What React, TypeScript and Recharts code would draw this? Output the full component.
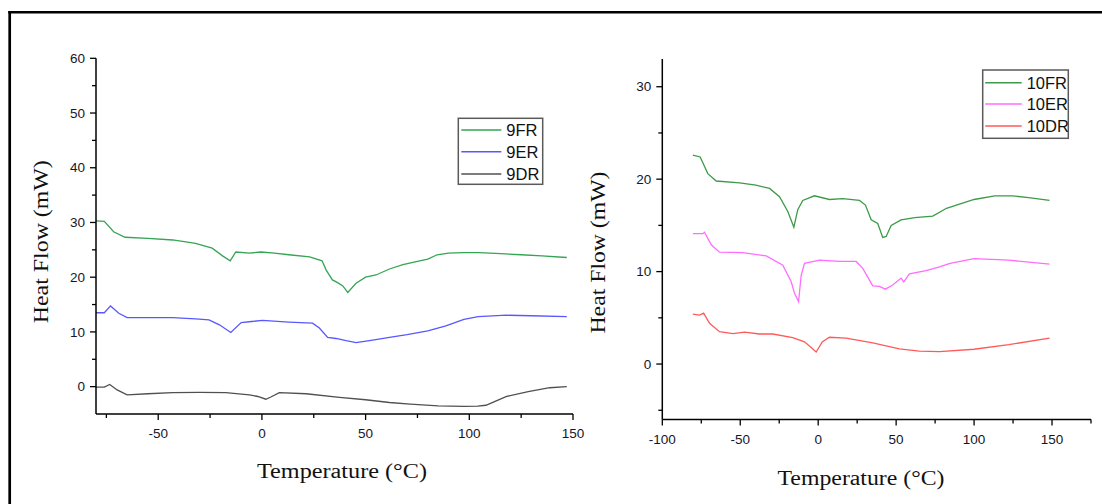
import React from 'react';
import { LineChart, Line, XAxis, YAxis } from 'recharts';

// ---------- Data: left panel (sample 9) ----------
const t9FR = [-80, -76, -71.5, -66, -55, -43, -32, -24, -19, -15.3, -12.6, -6, -0.5, 6, 13, 23, 29, 31, 34, 36.5, 39, 41.4, 45.4, 50, 55, 61.5, 68, 75, 80, 84.5, 90, 97, 105, 115, 125, 135, 147];
const v9FR = [30.3, 30.2, 28.3, 27.3, 27.1, 26.8, 26.2, 25.3, 23.9, 23.0, 24.6, 24.4, 24.6, 24.4, 24.1, 23.7, 23.0, 21.3, 19.5, 19.0, 18.4, 17.2, 18.9, 20.0, 20.4, 21.5, 22.3, 22.9, 23.3, 24.1, 24.4, 24.5, 24.5, 24.3, 24.1, 23.9, 23.6];

const t9ER = [-80, -76, -73, -69, -65, -55, -43, -32, -25.5, -20.5, -15, -10, -5, 0.3, 13, 24.4, 27.7, 31.7, 35.7, 40.6, 45.4, 53.4, 61.5, 70, 80, 88.7, 97.4, 104.3, 118, 130, 147];
const v9ER = [13.5, 13.5, 14.75, 13.4, 12.6, 12.6, 12.6, 12.4, 12.2, 11.3, 9.9, 11.7, 11.9, 12.1, 11.8, 11.6, 10.7, 9.0, 8.8, 8.4, 8.05, 8.5, 9.0, 9.5, 10.2, 11.1, 12.3, 12.8, 13.05, 12.95, 12.8];

const t9DR = [-80, -76, -73.4, -69.8, -65, -55, -43, -30, -17.4, -6, -2, 1.9, 4.3, 8.4, 21.3, 37.4, 50, 61.5, 71.5, 85, 97.4, 104, 108, 113, 118, 128.4, 138.8, 147];
const v9DR = [-0.1, -0.1, 0.4, -0.6, -1.5, -1.3, -1.1, -1.05, -1.1, -1.5, -1.8, -2.3, -1.9, -1.1, -1.3, -1.95, -2.4, -2.9, -3.2, -3.5, -3.6, -3.55, -3.4, -2.6, -1.8, -0.9, -0.2, 0.0];

// ---------- Data: right panel (sample 10) ----------
const t10FR = [-80.4, -75.7, -70.8, -65.4, -50.4, -40, -31.2, -24.8, -19.5, -15.6, -13.1, -9.9, -2.4, 7.2, 15.8, 26.5, 30.3, 34, 38.2, 41.4, 43.6, 46.8, 53.2, 62, 73.5, 82.3, 100, 113.3, 124.4, 135, 148.4];
const v10FR = [22.6, 22.4, 20.6, 19.8, 19.6, 19.35, 19.0, 18.1, 16.5, 14.8, 16.7, 17.7, 18.2, 17.8, 17.9, 17.7, 17.2, 15.6, 15.2, 13.7, 13.8, 15.0, 15.6, 15.85, 16.0, 16.85, 17.8, 18.2, 18.2, 18.0, 17.7];

const t10ER = [-80.4, -74, -72.9, -68.6, -63.3, -48.3, -33.3, -22.7, -17.3, -15.2, -12.6, -10.9, -8.8, 0.8, 13.7, 24.4, 28.6, 35, 39.3, 43.1, 47.8, 53.2, 54.9, 58.5, 69.2, 77.8, 84.6, 100, 122.3, 148.4];
const v10ER = [14.1, 14.1, 14.25, 12.9, 12.1, 12.05, 11.7, 10.7, 8.9, 7.65, 6.75, 9.6, 10.9, 11.25, 11.1, 11.1, 10.35, 8.45, 8.4, 8.1, 8.55, 9.3, 8.9, 9.75, 10.1, 10.5, 10.9, 11.4, 11.25, 10.8];

const t10DR = [-80.4, -76.1, -73.5, -69.7, -63.3, -54.7, -47.2, -37.6, -29.1, -16.3, -8.8, -4.5, -1.3, 2.6, 7.2, 17.9, 35, 52.1, 64.9, 77.8, 100, 122.3, 148.4];
const v10DR = [5.4, 5.3, 5.5, 4.4, 3.5, 3.3, 3.45, 3.25, 3.25, 2.85, 2.4, 1.8, 1.3, 2.4, 2.9, 2.8, 2.3, 1.65, 1.4, 1.35, 1.6, 2.1, 2.8];

// ---------- Ticks ----------
const leftXTicks = [-75, -50, -25, 0, 25, 50, 75, 100, 125, 150];
const leftXMajor = [-50, 0, 50, 100, 150];
const leftYTicks = [0, 5, 10, 15, 20, 25, 30, 35, 40, 45, 50, 55, 60];
const leftYMajor = [0, 10, 20, 30, 40, 50, 60];
const rightXTicks = [-100, -75, -50, -25, 0, 25, 50, 75, 100, 125, 150, 175];
const rightXMajor = [-100, -50, 0, 50, 100, 150];
const rightYTicks = [-5, 0, 5, 10, 15, 20, 25, 30];
const rightYMajor = [0, 10, 20, 30];

const zip = (t: number[], v: number[]) => t.map((x, i) => ({ t: x, v: v[i] }));

const leftSeries = [
  { name: '9FR', color: '#34a455', data: zip(t9FR, v9FR) },
  { name: '9ER', color: '#5858ff', data: zip(t9ER, v9ER) },
  { name: '9DR', color: '#505050', data: zip(t9DR, v9DR) },
];
const rightSeries = [
  { name: '10FR', color: '#3c9a48', data: zip(t10FR, v10FR) },
  { name: '10ER', color: '#ff6cff', data: zip(t10ER, v10ER) },
  { name: '10DR', color: '#ff5a5a', data: zip(t10DR, v10DR) },
];

const tickFont = '"Liberation Sans", Arial, sans-serif';
const titleFont = '"Liberation Serif", "Times New Roman", serif';

// tickSize=1, tickMargin=0 -> tick anchor sits 1px outside the axis line
const makeXTick = (majors: number[]) => (props: any) => {
  const { x, payload } = props;
  const y = props.y - 1;
  const major = majors.includes(payload.value);
  return (
    <g>
      <line x1={x} x2={x} y1={y} y2={y + (major ? 6 : 4)} stroke="#000" strokeWidth={1.3} />
      {major && (
        <text x={x} y={y + 24} textAnchor="middle" fontSize={13.5} fontFamily={tickFont} fill="#16162a">
          {payload.value}
        </text>
      )}
    </g>
  );
};

const makeYTick = (majors: number[]) => (props: any) => {
  const { y, payload } = props;
  const x = props.x + 1;
  const major = majors.includes(payload.value);
  return (
    <g>
      <line x1={x} x2={x - (major ? 6 : 4)} y1={y} y2={y} stroke="#000" strokeWidth={1.3} />
      {major && (
        <text x={x - 11} y={y + 4.7} textAnchor="end" fontSize={13.5} fontFamily={tickFont} fill="#16162a">
          {payload.value}
        </text>
      )}
    </g>
  );
};

const LegendBox = ({ x, y, w, h, lineX1, lineX2, textX, rows, series }: any) => (
  <g>
    <rect x={x} y={y} width={w} height={h} fill="#fff" stroke="#5a5a5a" strokeWidth={1.5} />
    {series.map((s: any, i: number) => (
      <g key={s.name}>
        <line x1={x + lineX1} x2={x + lineX2} y1={y + rows[i]} y2={y + rows[i]} stroke={s.color} strokeWidth={1.6} />
        <text x={x + textX} y={y + rows[i] + 6} fontSize={16.5} fontFamily={tickFont} fill="#111">
          {s.name}
        </text>
      </g>
    ))}
  </g>
);

const YW = 40;
const XH = 30;

export default function App() {
  return (
    <div style={{ position: 'absolute', left: 0, top: 0, width: 1102, height: 504, background: '#fff', overflow: 'hidden' }}>
      <div style={{ position: 'absolute', left: 0, top: 0 }}>
        <LineChart width={600} height={504} margin={{ top: 58.3, left: 96 - YW, right: 27, bottom: 90 - XH }}>
          <XAxis
            type="number"
            dataKey="t"
            domain={[-80, 150]}
            ticks={leftXTicks}
            interval={0}
            allowDataOverflow
            height={XH}
            tickSize={1}
            tickMargin={0}
            tickLine={false}
            tick={makeXTick(leftXMajor)}
            axisLine={{ stroke: '#000', strokeWidth: 1.5 }}
          />
          <YAxis
            type="number"
            dataKey="v"
            domain={[-5, 60]}
            ticks={leftYTicks}
            interval={0}
            allowDataOverflow
            width={YW}
            tickSize={1}
            tickMargin={0}
            tickLine={false}
            tick={makeYTick(leftYMajor)}
            axisLine={{ stroke: '#000', strokeWidth: 1.5 }}
          />
          {leftSeries.map((s) => (
            <Line key={s.name} data={s.data} dataKey="v" name={s.name} type="linear" stroke={s.color}
              strokeWidth={1.3} dot={false} isAnimationActive={false} />
          ))}
        </LineChart>
      </div>
      <div style={{ position: 'absolute', left: 560, top: 0 }}>
        <LineChart width={542} height={504} margin={{ top: 59, left: 102.3 - YW, right: 11, bottom: 84.5 - XH }}>
          <XAxis
            type="number"
            dataKey="t"
            domain={[-100, 175]}
            ticks={rightXTicks}
            interval={0}
            allowDataOverflow
            height={XH}
            tickSize={1}
            tickMargin={0}
            tickLine={false}
            tick={makeXTick(rightXMajor)}
            axisLine={{ stroke: '#000', strokeWidth: 1.5 }}
          />
          <YAxis
            type="number"
            dataKey="v"
            domain={[-6, 33]}
            ticks={rightYTicks}
            interval={0}
            allowDataOverflow
            width={YW}
            tickSize={1}
            tickMargin={0}
            tickLine={false}
            tick={makeYTick(rightYMajor)}
            axisLine={{ stroke: '#000', strokeWidth: 1.5 }}
          />
          {rightSeries.map((s) => (
            <Line key={s.name} data={s.data} dataKey="v" name={s.name} type="linear" stroke={s.color}
              strokeWidth={1.3} dot={false} isAnimationActive={false} />
          ))}
        </LineChart>
      </div>
      <svg width={1102} height={504} style={{ position: 'absolute', left: 0, top: 0, pointerEvents: 'none' }}>
        <line x1={9.7} x2={9.7} y1={11} y2={504} stroke="#000" strokeWidth={2.7} />
        <line x1={8.3} x2={1102} y1={12.2} y2={12.2} stroke="#000" strokeWidth={2.6} />
        <text transform="translate(48,241.7) rotate(-90)" textAnchor="middle" fontSize={20} fontFamily={titleFont}
          fill="#111" textLength={163} lengthAdjust="spacingAndGlyphs">Heat Flow (mW)</text>
        <text transform="translate(604.5,252.5) rotate(-90)" textAnchor="middle" fontSize={20} fontFamily={titleFont}
          fill="#111" textLength={162} lengthAdjust="spacingAndGlyphs">Heat Flow (mW)</text>
        <text x={342} y={478} textAnchor="middle" fontSize={20} fontFamily={titleFont} fill="#111"
          textLength={170} lengthAdjust="spacingAndGlyphs">Temperature (°C)</text>
        <text x={861} y={485} textAnchor="middle" fontSize={20} fontFamily={titleFont} fill="#111"
          textLength={167} lengthAdjust="spacingAndGlyphs">Temperature (°C)</text>
        <LegendBox x={458.3} y={118.3} w={84.4} h={66} lineX1={3} lineX2={43} textX={48} rows={[11.7, 33.4, 55.7]} series={leftSeries} />
        <LegendBox x={982.7} y={70} w={85.6} h={68.3} lineX1={2.5} lineX2={39} textX={44} rows={[12.7, 34, 56]} series={rightSeries} />
      </svg>
    </div>
  );
}
